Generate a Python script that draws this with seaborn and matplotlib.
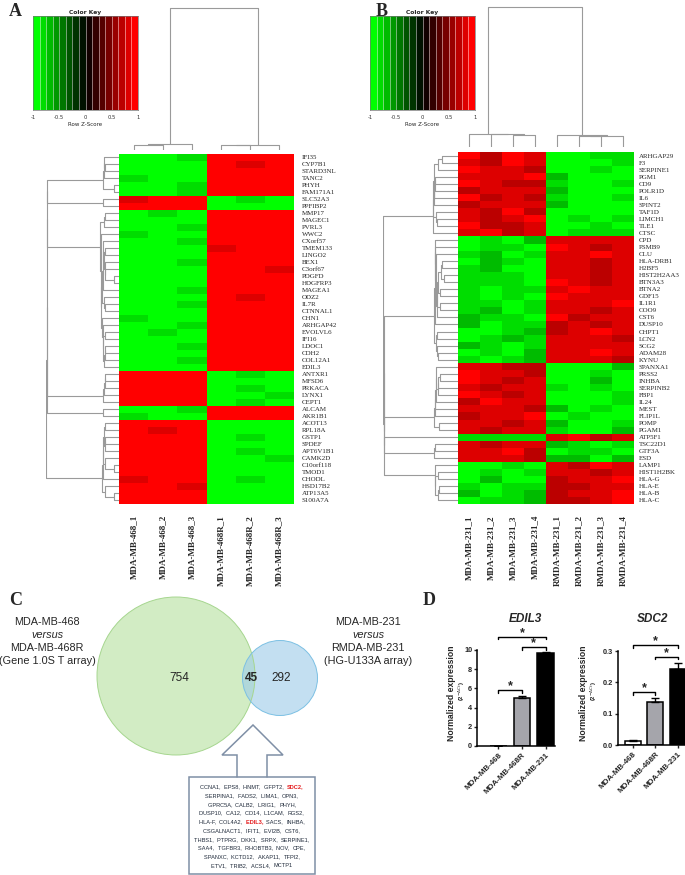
import numpy as np
import pandas as pd
import matplotlib
matplotlib.use("Agg")
import matplotlib.pyplot as plt
import seaborn as sns
from matplotlib.colors import LinearSegmentedColormap
from matplotlib.patches import Circle, Rectangle

sns.set_style("white")
plt.rcParams['font.family'] = ['DejaVu Sans']

W, H = 685, 875

# ---------------- data ----------------
a_cols = ["MDA-MB-468_1", "MDA-MB-468_2", "MDA-MB-468_3",
          "MDA-MB-468R_1", "MDA-MB-468R_2", "MDA-MB-468R_3"]
a_genes = ["IFI35", "CYP7B1", "STARD3NL", "TANC2", "PHYH", "FAM171A1", "SLC52A3", "PPFIBP2",
           "MMP17", "MAGEC1", "PVRL3", "WWC2", "CXorf57", "TMEM133", "LINGO2", "BEX1", "C3orf67",
           "PDGFD", "HDGFRP3", "MAGEA1", "ODZ2", "IL7R", "CTNNAL1", "CHN1", "ARHGAP42", "EVOLVL6",
           "IFI16", "LDOC1", "CDH2", "COL12A1", "EDIL3", "ANTXR1", "MFSD6", "PRKACA", "LYNX1",
           "CEPT1", "ALCAM", "AKR1B1", "ACOT13", "RPL18A", "GSTP1", "SPDEF", "APT6V1B1", "CAMK2D",
           "C10orf118", "TMOD1", "CHODL", "HSD17B2", "ATP13A5", "S100A7A"]
# per-cell z-score level codes: R/r/d = red shades, G/g/k = green shades
a_rows = ["GGgRRR", "GGGRrR", "GGGRRR", "gGGRRR", "GGgRRR", "GGgRRR", "rRRGgG", "RRRGGG",
          "GgGRRR", "GGGRRR", "GGgRRR", "gGGRRR", "GGgRRR", "GGGrRR", "GGGRRR", "GGgRRR",
          "GGGRRr", "GGGRRR", "GGGRRR", "GGgRRR", "GGGRrR", "GGgRRR", "GGGRRR", "gGGRRR",
          "GGgRRR", "GgGRRR", "GGGRRR", "GGgRRR", "GGGRRR", "GGgRRR", "GGGRRR", "RRRGgG",
          "RRRGGG", "RRRGgG", "RRRGGg", "RRRGgG", "GGgRRR", "gGGRRR", "RRRGGG", "RrRGGG",
          "RRRGgG", "RRRGGG", "RRRGgG", "RRRGGg", "RRRGGG", "RRRGGG", "rRRGgG", "RRrGGG",
          "RRRGGG", "RRRGGG"]

b_cols = ["MDA-MB-231_1", "MDA-MB-231_2", "MDA-MB-231_3", "MDA-MB-231_4",
          "RMDA-MB-231_1", "RMDA-MB-231_2", "RMDA-MB-231_3", "RMDA-MB-231_4"]
b_genes = ["ARHGAP29", "F3", "SERPINE1", "PGM1", "CD9", "POLR1D", "IL6", "SPINT2", "TAF1D",
           "LIMCH1", "TLE1", "CTSC", "CPD", "PSMB9", "CLU", "HLA-DRB1", "H2BF5", "HIST2H2AA3",
           "BTN3A3", "BTNA2", "GDF15", "IL1R1", "COO9", "CST6", "DUSP10", "CHPT1", "LCN2", "SCG2",
           "ADAM28", "KYNU", "SPANXA1", "PRSS2", "INHBA", "SERPINB2", "FBP1", "IL24", "MEST",
           "FLIP1L", "POMP", "PGAM1", "ATP5F1", "TSC22D1", "GTF3A", "ESD", "LAMP1", "HIST1H2BK",
           "HLA-G", "HLA-E", "HLA-B", "HLA-C"]
b_rows = ["RdRrGGgg", "rdRrGGGg", "RrrdGGgG", "rrrRkGGG", "RrddgGGg", "drrrkGGG", "RdrdgGGg",
          "drrrkGGG", "rdRdGGGG", "rdrRGgGg", "RddrGGgG", "rRdrGggg", "GgGkrrrr", "GggGRrdr",
          "gkGgrrRr", "GkgGrrdr", "gkGGrrdr", "gggGrrdr", "gggGRrdr", "gGggrRrr", "gGgGRrrr",
          "ggGgrrrR", "gkGgrrdr", "kggGRdrr", "kGggdrdr", "GGgkdrRr", "Ggkgrrrd", "kgGgrrrr",
          "GgGkrrRr", "gGgkrrrd", "rrddGGGk", "RrrdGGgG", "RrdrGGkG", "rdrrgGgG", "RrdrGGGg",
          "dRrrGGGg", "rrrdkGgG", "drrRGgGG", "rrdrkGGg", "rdrrgGGk", "ggggrRdr", "rdrrkgGg",
          "rrRdGggG", "rrrdkkGk", "GGgGrdRr", "GgGgrrdr", "GkGGdrrR", "gGggddrr", "kGgkdrrR",
          "GggkddrR"]
level = {"R": 1.0, "r": 0.85, "d": 0.7, "G": -1.0, "g": -0.85, "k": -0.7}

key_ticks = [-1, -0.5, 0, 0.5, 1]
key_ticklabels = ["-1", "-0.5", "0", "0.5", "1"]

venn_only_left = 754
venn_both = 45
venn_only_right = 292
venn_left_label = ["MDA-MB-468", "versus", "MDA-MB-468R", "(Gene 1.0S T array)"]
venn_right_label = ["MDA-MB-231", "versus", "RMDA-MB-231", "(HG-U133A array)"]
common_genes = [
    ["CCNA1", "EPS8", "HNMT", "GFPT2", "SDC2"],
    ["SERPINA1", "FADS2", "LIMA1", "OPN3"],
    ["GPRC5A", "CALB2", "LRIG1", "PHYH"],
    ["DUSP10", "CA12", "CD14", "L1CAM", "RGS2"],
    ["HLA-F", "COL4A2", "EDIL3", "SACS", "INHBA"],
    ["CSGALNACT1", "IFIT1", "EVI2B", "CST6"],
    ["THBS1", "PTPRG", "DKK1", "SRPX", "SERPINE1"],
    ["SAA4", "TGFBR3", "RHOBTB3", "NOV", "CPE"],
    ["SPANXC", "KCTD12", "AKAP11", "TFPI2"],
    ["ETV1", "TRIB2", "ACSL4", "MCTP1"],
]
highlight_genes = ["SDC2", "EDIL3"]

qpcr_cats = ["MDA-MB-468", "MDA-MB-468R", "MDA-MB-231"]
edil3_mean = [0.02, 5.0, 9.65]
edil3_err = [0.01, 0.22, 0.13]
sdc2_mean = [0.013, 0.138, 0.242]
sdc2_err = [0.002, 0.012, 0.02]
edil3_sig = [(0, 1, 5.8), (1, 2, 10.3), (0, 2, 11.35)]
sdc2_sig = [(0, 1, 0.168), (1, 2, 0.281), (0, 2, 0.318)]

# ---------------- helpers ----------------
fig = plt.figure(figsize=(W / 100, H / 100), dpi=100)
cmap = LinearSegmentedColormap.from_list("gr", ["#00ff00", "#000000", "#ff0000"], N=16)
SERIF = "Liberation Serif"
SANS = "Liberation Sans"
DGRAY = "#9a9a9a"


def px_axes(x0, y0, x1, y1):
    return fig.add_axes([x0 / W, 1 - y1 / H, (x1 - x0) / W, (y1 - y0) / H])


def adjacent_tree(M, eps=0.0):
    """Average-linkage agglomeration restricted to adjacent clusters (keeps the order)."""
    clusters = [{"m": [i], "pos": i + 0.5, "h": 0.0} for i in range(len(M))]
    segs = []
    while len(clusters) > 1:
        best = None
        for j in range(len(clusters) - 1):
            a, b = clusters[j], clusters[j + 1]
            d = np.mean([np.linalg.norm(M[p] - M[q]) for p in a["m"] for q in b["m"]])
            if best is None or d < best[0]:
                best = (d, j)
        d, j = best
        a, b = clusters[j], clusters[j + 1]
        h = max(d, a["h"], b["h"]) + eps
        segs.append([(a["pos"], a["h"]), (a["pos"], h), (b["pos"], h), (b["pos"], b["h"])])
        clusters[j:j + 2] = [{"m": a["m"] + b["m"], "pos": (a["pos"] + b["pos"]) / 2, "h": h}]
    return segs, clusters[0]["h"]


def heat_panel(genes, cols, rows, hm, rd, cd, key, letter_xy, letter, ypad):
    M = np.array([[level[c] for c in r] for r in rows])
    df = pd.DataFrame(M, index=genes, columns=cols)
    ax = px_axes(*hm)
    sns.heatmap(df, ax=ax, cmap=cmap, vmin=-1, vmax=1, cbar=False,
                xticklabels=True, yticklabels=True)
    ax.yaxis.tick_right()
    ax.set_yticks(np.arange(len(genes)) + 0.5)
    ax.set_yticklabels(genes, rotation=0, fontsize=5, fontfamily=SERIF)
    ax.set_xticklabels(cols, rotation=90, fontsize=6.5, fontfamily=SERIF,
                       fontweight="bold", va="top")
    ax.tick_params(axis="y", length=0, pad=ypad)
    ax.tick_params(axis="x", length=0, pad=8)
    ax.set_xlabel("")
    ax.set_ylabel("")

    # row dendrogram
    axr = px_axes(*rd)
    segs, hmax = adjacent_tree(M, eps=0.02)
    for s in segs:
        axr.plot([np.sqrt(p[1]) for p in s], [p[0] for p in s], color=DGRAY, lw=0.8)
    axr.set_xlim(np.sqrt(hmax) * 1.005, 0)
    axr.set_ylim(len(genes), 0)
    axr.axis("off")

    # column dendrogram
    axc = px_axes(*cd)
    segs, hmax = adjacent_tree(M.T)
    for s in segs:
        axc.plot([p[0] for p in s], [p[1] for p in s], color=DGRAY, lw=0.8)
    axc.set_xlim(0, len(cols))
    axc.set_ylim(0, hmax * 1.005)
    axc.axis("off")

    # colour key
    axk = px_axes(*key)
    edges = np.linspace(-1, 1, 17)
    centers = (edges[:-1] + edges[1:]) / 2
    axk.pcolormesh(edges, [0, 1], centers[None, :], cmap=cmap, vmin=-1, vmax=1)
    axk.vlines(edges[1:-1], 0, 1, colors="white", lw=0.6, alpha=0.55)
    axk.set_xlim(-1, 1)
    axk.set_ylim(0, 1)
    axk.set_yticks([])
    axk.set_xticks(key_ticks)
    axk.set_xticklabels(key_ticklabels, fontsize=3.8)
    axk.tick_params(axis="x", length=2, width=0.5, pad=1.5, colors="#333333")
    axk.set_title("Color Key", fontsize=4.3, fontweight="bold", pad=1.5)
    axk.set_xlabel("Row Z-Score", fontsize=4, labelpad=1.5)
    for sp in axk.spines.values():
        sp.set_linewidth(0.5)
        sp.set_color("#777777")

    fig.text(letter_xy[0] / W, 1 - letter_xy[1] / H, letter, fontsize=13,
             fontweight="bold", fontfamily=SERIF, va="top", ha="left")


# ---------------- panels A and B ----------------
heat_panel(a_genes, a_cols, a_rows, hm=(119, 154, 294, 504), rd=(46, 154, 119, 504),
           cd=(119, 7, 294, 150), key=(33, 16, 138, 110), letter_xy=(9, 3), letter="A", ypad=5.5)
heat_panel(b_genes, b_cols, b_rows, hm=(458, 152, 634, 504), rd=(383, 152, 458, 504),
           cd=(458, 6, 634, 147), key=(370, 16, 475, 110), letter_xy=(376, 3), letter="B", ypad=3.5)

# ---------------- panel C ----------------
axv = px_axes(0, 590, 350, 875)
axv.set_xlim(0, 350)
axv.set_ylim(875, 590)
axv.axis("off")
axv.add_patch(Circle((176, 676), 79, fc="#d2ecc4", ec="none", zorder=1))
axv.add_patch(Circle((176, 676), 79, fill=False, ec="#a6d68f", lw=0.7, zorder=3))
axv.add_patch(Circle((280, 678), 37.5, fc=(155 / 255, 203 / 255, 233 / 255), alpha=0.6,
                     ec="none", zorder=2))
axv.add_patch(Circle((280, 678), 37.5, fill=False, ec="#7cc0e3", lw=0.7, zorder=3))
axv.text(179, 678, str(venn_only_left), ha="center", va="center", fontsize=8.5,
         fontfamily=SANS, zorder=4)
axv.text(251, 678, str(venn_both), ha="center", va="center", fontsize=8.5,
         fontweight="bold", fontfamily=SANS, zorder=4)
axv.text(281, 678, str(venn_only_right), ha="center", va="center", fontsize=8.5,
         fontfamily=SANS, zorder=4)
for k, s in enumerate(venn_left_label):
    axv.text(47, 622 + k * 13, s, ha="center", va="center", fontsize=7.8, fontfamily=SANS,
             fontstyle="italic" if s == "versus" else "normal")
for k, s in enumerate(venn_right_label):
    axv.text(368, 622 + k * 13, s, ha="center", va="center", fontsize=7.8, fontfamily=SANS,
             fontstyle="italic" if s == "versus" else "normal", clip_on=False)

EDGE = "#7f8fa6"
arrow_x = [237, 237, 222, 253, 283, 267, 267]
arrow_y = [777, 755, 755, 725, 755, 755, 777]
axv.plot(arrow_x, arrow_y, color=EDGE, lw=1.1, solid_joinstyle="miter", zorder=5)
axv.add_patch(Rectangle((189, 777), 126, 97, fill=False, ec=EDGE, lw=1.1, zorder=5))

renderer = fig.canvas.get_renderer()
LKW = dict(fontsize=4.1, fontfamily=SANS)


def text_width(s):
    t1 = axv.text(0, 0, s + "x", **LKW)
    t2 = axv.text(0, 0, "x", **LKW)
    w = t1.get_window_extent(renderer).width - t2.get_window_extent(renderer).width
    t1.remove()
    t2.remove()
    return w


n_lines = len(common_genes)
for li, line in enumerate(common_genes):
    parts = []
    for gi, g in enumerate(line):
        last = (li == n_lines - 1) and (gi == len(line) - 1)
        txt = g + ("" if last else ",")
        col = "#e41a1c" if g in highlight_genes else "#1f2a3a"
        if gi < len(line) - 1:
            txt += "  "
        parts.append((txt, col))
    full = "".join(p for p, _ in parts).rstrip()
    total = text_width(full)
    x0 = 252 - total / 2
    y = 787 + li * 8.75
    for k, (s, c) in enumerate(parts):
        off = text_width("".join(p for p, _ in parts[:k])) if k else 0
        axv.text(x0 + off, y, s, color=c, ha="left", va="center", zorder=6,
                 fontweight="bold" if c == "#e41a1c" else "normal", **LKW)

fig.text(9 / W, 1 - 592 / H, "C", fontsize=13, fontweight="bold", fontfamily=SERIF,
         va="top", ha="left")

# ---------------- panel D ----------------
fig.text(423 / W, 1 - 592 / H, "D", fontsize=13, fontweight="bold", fontfamily=SERIF,
         va="top", ha="left")
bar_palette = ["#ffffff", "#a4a4ac", "#000000"]


def bar_panel(box, mean, err, sig, ylim, yticks, yticklabels, xlim, title, title_x,
              ylab_x, drop):
    ax = px_axes(*box)
    sns.barplot(x=qpcr_cats, y=mean, hue=qpcr_cats, palette=bar_palette, legend=False,
                edgecolor="black", linewidth=1.1, width=0.7, errorbar=None, ax=ax)
    ax.errorbar(range(3), mean, yerr=[np.zeros(3), err], fmt="none", ecolor="black",
                elinewidth=1.0, capsize=3, capthick=1.0, zorder=5)
    ax.set_xlim(*xlim)
    ax.set_ylim(*ylim)
    ax.set_yticks(yticks)
    ax.set_yticklabels(yticklabels, fontsize=5.3, fontweight="bold", fontfamily=SANS)
    ax.set_xticks(range(3))
    ax.set_xticklabels(qpcr_cats, rotation=45, ha="right", rotation_mode="anchor",
                       fontsize=5.8, fontweight="bold", fontfamily=SANS)
    ax.tick_params(axis="y", length=2.5, width=1, pad=1, left=True)
    ax.tick_params(axis="x", length=2, width=1, pad=2, bottom=True)
    ax.set_xlabel("")
    ax.set_ylabel("")
    sns.despine(ax=ax)
    for sp in ["left", "bottom"]:
        ax.spines[sp].set_linewidth(1.1)
        ax.spines[sp].set_color("black")
    for i, j, y in sig:
        ax.plot([i, i, j, j], [y - drop, y, y, y - drop], color="black", lw=1.0,
                clip_on=False)
        ax.annotate("*", xy=((i + j) / 2, y), xytext=(0, -1.5), textcoords="offset points",
                    ha="center", va="bottom", fontsize=9, fontweight="bold",
                    fontfamily=SANS, annotation_clip=False)
    fig.text(title_x / W, 1 - 619 / H, title, ha="center", va="center", fontsize=8.5,
             fontweight="bold", fontstyle="italic", fontfamily=SANS)
    fig.text(ylab_x / W, 1 - 693 / H, "Normalized expression", rotation=90, ha="center",
             va="center", fontsize=6.2, fontweight="bold", fontfamily=SANS)
    fig.text((ylab_x + 10.5) / W, 1 - 691 / H, r"(2$^{-\Delta Ct}$)", rotation=90,
             ha="center", va="center", fontsize=4.3, fontweight="bold", fontfamily=SANS)


bar_panel((477, 650, 555, 746), edil3_mean, edil3_err, edil3_sig, (0, 10),
          [0, 2, 4, 6, 8, 10], ["0", "2", "4", "6", "8", "10"], (-0.9, 2.4),
          "EDIL3", 525, 451, 0.25)
bar_panel((618, 651, 687, 745), sdc2_mean, sdc2_err, sdc2_sig, (0, 0.3),
          [0, 0.1, 0.2, 0.3], ["0.0", "0.1", "0.2", "0.3"], (-0.65, 2.4),
          "SDC2", 653, 583, 0.008)

fig.savefig("out.png", dpi=100)
